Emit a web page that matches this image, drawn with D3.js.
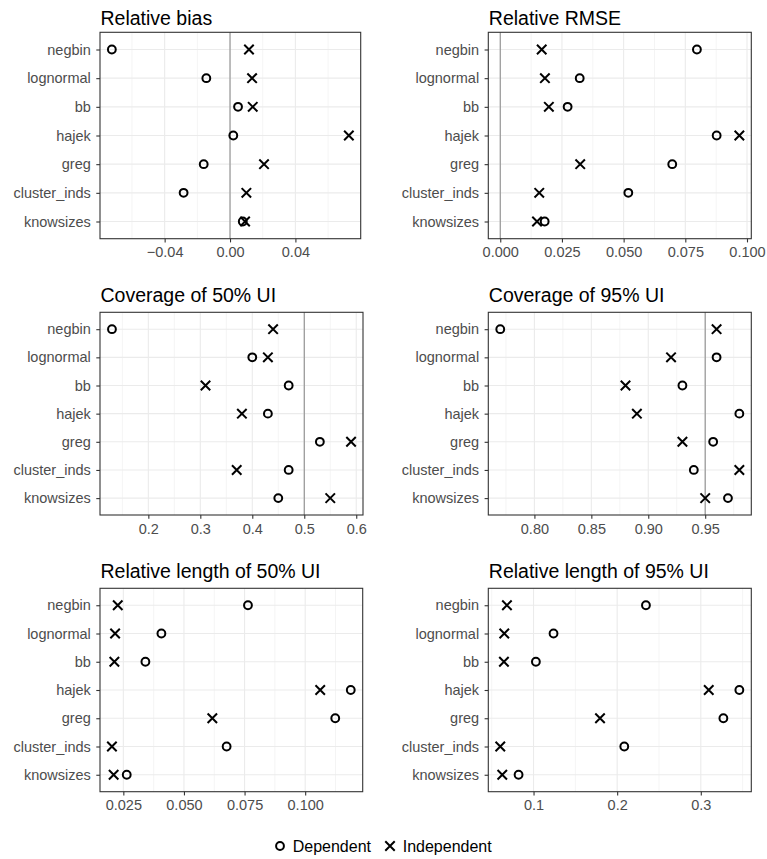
<!DOCTYPE html>
<html>
<head>
<meta charset="utf-8">
<script src="https://cdn.jsdelivr.net/npm/d3@7"></script>
<style>
  body { margin: 0; background: #fff; }
  svg { display: block; font-family: "Liberation Sans", Arial, sans-serif; }
</style>
</head>
<body>
<svg width="767" height="859"></svg>
<script>
// categories, top to bottom
const methods = ['negbin', 'lognormal', 'bb', 'hajek', 'greg', 'cluster_inds', 'knowsizes'];

const titles = ['Relative bias', 'Relative RMSE', 'Coverage of 50% UI',
                'Coverage of 95% UI', 'Relative length of 50% UI', 'Relative length of 95% UI'];

// values, same order as methods
const biasDep   = [-0.0723, -0.0145, 0.0049, 0.0020, -0.0161, -0.0284, 0.0078];
const biasInd   = [0.0116, 0.0135, 0.0139, 0.0727, 0.0208, 0.0100, 0.0092];
const rmseDep   = [0.0797, 0.0322, 0.0273, 0.0877, 0.0697, 0.0519, 0.0180];
const rmseInd   = [0.0168, 0.0181, 0.0197, 0.0969, 0.0324, 0.0158, 0.0149];
const cov50Dep  = [0.13, 0.40, 0.47, 0.43, 0.53, 0.47, 0.45];
const cov50Ind  = [0.44, 0.43, 0.31, 0.38, 0.59, 0.37, 0.55];
const cov95Dep  = [0.77, 0.96, 0.93, 0.98, 0.957, 0.94, 0.97];
const cov95Ind  = [0.96, 0.92, 0.88, 0.89, 0.93, 0.98, 0.95];
const len50Dep  = [0.0764, 0.0407, 0.0341, 0.1188, 0.1124, 0.0676, 0.0264];
const len50Ind  = [0.0227, 0.0216, 0.0213, 0.1062, 0.0617, 0.0203, 0.0210];
const len95Dep  = [0.2344, 0.1239, 0.1028, 0.3461, 0.3270, 0.2085, 0.0821];
const len95Ind  = [0.0682, 0.0650, 0.0646, 0.3095, 0.1795, 0.0602, 0.0626];

// tick labels per panel
const ticks1 = [-0.04, 0, 0.04];
const ticks2 = [0, 0.025, 0.05, 0.075, 0.1];
const ticks3 = [0.2, 0.3, 0.4, 0.5, 0.6];
const ticks4 = [0.80, 0.85, 0.90, 0.95];
const ticks5 = [0.025, 0.05, 0.075, 0.1];
const ticks6 = [0.1, 0.2, 0.3];

// reference lines (null = none)
const refLines = [0, 0, 0.5, 0.95, null, null];

const series = ['Dependent', 'Independent'];

const panels = [
    {dep: biasDep,  ind: biasInd,  ticks: ticks1, fmt: '.2f'},
    {dep: rmseDep,  ind: rmseInd,  ticks: ticks2, fmt: '.3f'},
    {dep: cov50Dep, ind: cov50Ind, ticks: ticks3, fmt: '.1f'},
    {dep: cov95Dep, ind: cov95Ind, ticks: ticks4, fmt: '.2f'},
    {dep: len50Dep, ind: len50Ind, ticks: ticks5, fmt: '.3f'},
    {dep: len95Dep, ind: len95Ind, ticks: ticks6, fmt: '.1f'}
];

// panel boxes
const boxes = [
    {x0: 100,   x1: 360.7, y0: 32.3,  y1: 238.7, tgap: 7.3},
    {x0: 488.3, x1: 751.3, y0: 32.3,  y1: 238.7, tgap: 7.3},
    {x0: 100,   x1: 363,   y0: 312.3, y1: 515,   tgap: 10.6},
    {x0: 488.3, x1: 751.3, y0: 312.3, y1: 515,   tgap: 10.6},
    {x0: 100,   x1: 362.7, y0: 588.3, y1: 791.7, tgap: 10},
    {x0: 488.3, x1: 751.3, y0: 588.3, y1: 791.7, tgap: 10}
];

const svg = d3.select('svg');
const FONT = '"Liberation Sans", Arial, sans-serif';
const textCol = '#4d4d4d';
const circle = d3.symbol(d3.symbolCircle, 48)();
const cross = d3.symbol(d3.symbolX, 60)();

panels.forEach((p, i) => {
    const b = boxes[i];
    const vals = p.dep.concat(p.ind);
    if (refLines[i] !== null) vals.push(refLines[i]);
    const [lo, hi] = d3.extent(vals);
    const pad = (hi - lo) * 0.05;

    const x = d3.scaleLinear().domain([lo - pad, hi + pad]).range([b.x0, b.x1]);
    const y = d3.scalePoint().domain(methods).range([b.y0, b.y1]).padding(0.6);

    const g = svg.append('g');

    // minor grid: midpoints between majors, within the domain
    const step = p.ticks[1] - p.ticks[0];
    const minors = [];
    for (let k = -1; k < p.ticks.length; k++) {
        const m = p.ticks[0] + step * (k + 0.5);
        if (m > x.domain()[0] && m < x.domain()[1]) minors.push(m);
    }
    g.selectAll('.minor').data(minors).enter().append('line')
        .attr('x1', d => x(d)).attr('x2', d => x(d))
        .attr('y1', b.y0).attr('y2', b.y1)
        .attr('stroke', '#ebebeb').attr('stroke-width', 0.55);

    g.selectAll('.majx').data(p.ticks).enter().append('line')
        .attr('x1', d => x(d)).attr('x2', d => x(d))
        .attr('y1', b.y0).attr('y2', b.y1)
        .attr('stroke', '#ebebeb').attr('stroke-width', 1.1);

    g.selectAll('.majy').data(methods).enter().append('line')
        .attr('x1', b.x0).attr('x2', b.x1)
        .attr('y1', d => y(d)).attr('y2', d => y(d))
        .attr('stroke', '#ebebeb').attr('stroke-width', 1.1);

    if (refLines[i] !== null) {
        g.append('line')
            .attr('x1', x(refLines[i])).attr('x2', x(refLines[i]))
            .attr('y1', b.y0).attr('y2', b.y1)
            .attr('stroke', '#8f8f8f').attr('stroke-width', 1.1);
    }

    // points
    g.selectAll('.dep').data(methods).enter().append('path')
        .attr('d', circle)
        .attr('transform', (d, j) => `translate(${x(p.dep[j])},${y(d)})`)
        .attr('fill', 'none').attr('stroke', '#000').attr('stroke-width', 2);

    g.selectAll('.ind').data(methods).enter().append('path')
        .attr('d', cross)
        .attr('transform', (d, j) => `translate(${x(p.ind[j])},${y(d)})`)
        .attr('fill', 'none').attr('stroke', '#000').attr('stroke-width', 2);

    // border
    g.append('rect')
        .attr('x', b.x0).attr('y', b.y0)
        .attr('width', b.x1 - b.x0).attr('height', b.y1 - b.y0)
        .attr('fill', 'none').attr('stroke', '#333').attr('stroke-width', 1.1);

    // axes
    const xAxis = g.append('g')
        .attr('transform', `translate(0,${b.y1})`)
        .call(d3.axisBottom(x).tickValues(p.ticks).tickFormat(d3.format(p.fmt))
            .tickSize(3.7).tickPadding(4.6))
        .attr('font-family', FONT).attr('font-size', 14.5);
    xAxis.select('.domain').remove();
    xAxis.selectAll('line').attr('stroke', '#333').attr('stroke-width', 1.1);
    xAxis.selectAll('text').attr('fill', textCol);

    const yAxis = g.append('g')
        .attr('transform', `translate(${b.x0},0)`)
        .call(d3.axisLeft(y).tickSize(3.7).tickPadding(5.5))
        .attr('font-family', FONT).attr('font-size', 14.5);
    yAxis.select('.domain').remove();
    yAxis.selectAll('line').attr('stroke', '#333').attr('stroke-width', 1.1);
    yAxis.selectAll('text').attr('fill', textCol);

    g.append('text')
        .attr('x', b.x0 + 0.5).attr('y', b.y0 - b.tgap)
        .attr('font-family', FONT).attr('font-size', 19.5).attr('fill', '#000')
        .text(titles[i]);
});

// legend
const legend = svg.append('g').attr('transform', 'translate(0,846)');
const legX = [280, 390];
legend.selectAll('path').data(series).enter().append('path')
    .attr('d', (d, i) => i === 0 ? circle : cross)
    .attr('transform', (d, i) => `translate(${legX[i]},0)`)
    .attr('fill', 'none').attr('stroke', '#000').attr('stroke-width', 2);
legend.selectAll('text').data(series).enter().append('text')
    .attr('x', (d, i) => legX[i] + 12.7).attr('y', 5.5)
    .attr('font-family', FONT).attr('font-size', 16).attr('fill', '#000')
    .text(d => d);
</script>
</body>
</html>
